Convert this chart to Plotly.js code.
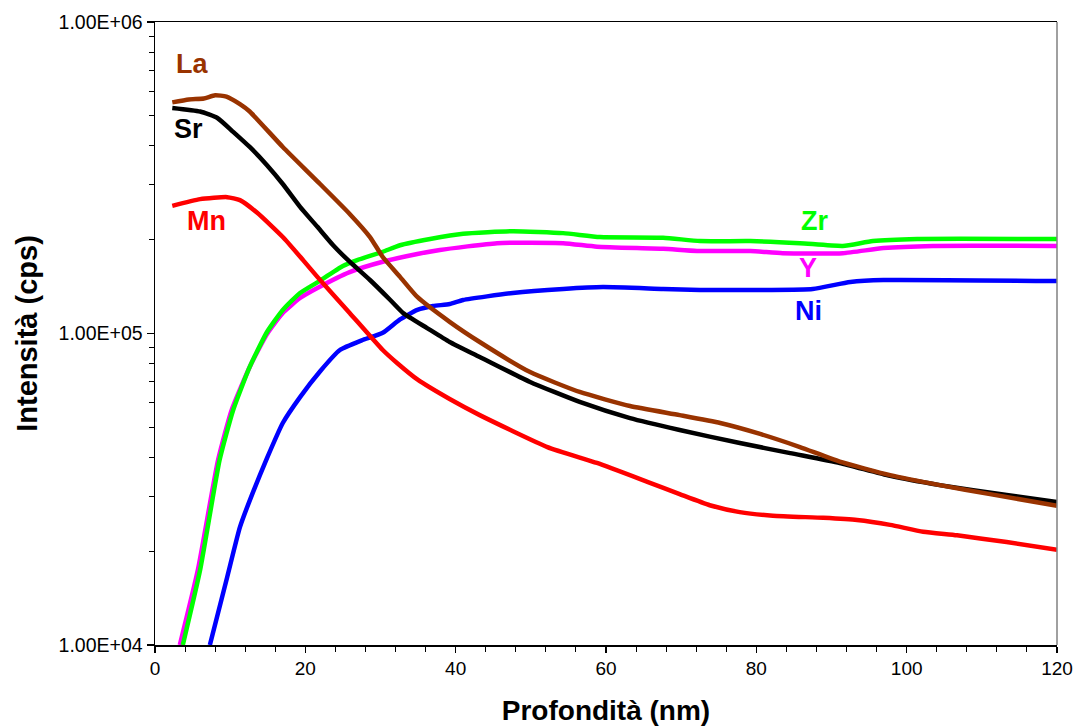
<!DOCTYPE html>
<html>
<head>
<meta charset="utf-8">
<script src="https://cdn.plot.ly/plotly-3.0.1.min.js"></script>
<style>
  html, body { margin: 0; padding: 0; background: #fff; }
  #chart { width: 1076px; height: 726px; }
</style>
</head>
<body>
<div id="chart"></div>
<script>
// Depth profile (nm) and intensities (cps) per element
const laDepth = [2.3, 4.5, 6.5, 8.0, 9.5, 11.3, 12.6, 17.0, 21.6, 25.9, 28.6, 30.3, 32.6, 34.9, 39.2, 43.2, 49.9, 56.5, 63.2, 69.8, 75.2, 80.5, 85.8, 91.1, 97.8, 104.4, 111.1, 120];
const laCps   = [5.52e5, 5.64e5, 5.68e5, 5.82e5, 5.76e5, 5.45e5, 5.16e5, 3.97e5, 3.08e5, 2.42e5, 2.04e5, 1.76e5, 1.52e5, 1.31e5, 1.09e5, 9.39e4, 7.52e4, 6.49e4, 5.85e4, 5.47e4, 5.16e4, 4.76e4, 4.32e4, 3.88e4, 3.51e4, 3.26e4, 3.05e4, 2.80e4];

const srDepth = [2.3, 6.0, 8.3, 10.4, 12.6, 14.9, 17.0, 19.3, 21.6, 23.7, 25.9, 28.6, 31.3, 33.0, 36.2, 39.2, 43.2, 49.9, 56.5, 63.2, 69.8, 77.8, 84.5, 91.1, 97.8, 104.4, 113.3, 120];
const srCps   = [5.30e5, 5.16e5, 4.92e5, 4.44e5, 3.97e5, 3.47e5, 3.02e5, 2.55e5, 2.20e5, 1.92e5, 1.70e5, 1.485e5, 1.281e5, 1.164e5, 1.041e5, 9.39e4, 8.41e4, 6.99e4, 6.03e4, 5.35e4, 4.90e4, 4.45e4, 4.13e4, 3.84e4, 3.49e4, 3.26e4, 3.03e4, 2.88e4];

const mnDepth = [2.3, 6.0, 9.6, 11.3, 13.6, 17.0, 19.7, 21.6, 25.9, 30.3, 32.2, 34.9, 39.2, 43.2, 52.2, 58.8, 65.5, 69.8, 73.8, 77.8, 82.2, 88.9, 93.4, 97.8, 102.2, 106.7, 113.3, 120];
const mnCps   = [2.57e5, 2.70e5, 2.74e5, 2.68e5, 2.44e5, 2.04e5, 1.72e5, 1.52e5, 1.164e5, 8.85e4, 8.04e4, 7.12e4, 6.16e4, 5.47e4, 4.32e4, 3.84e4, 3.34e4, 3.05e4, 2.81e4, 2.67e4, 2.60e4, 2.56e4, 2.52e4, 2.43e4, 2.31e4, 2.25e4, 2.14e4, 2.02e4];

const zrDepth = [3.7, 6.0, 8.6, 10.4, 12.6, 14.9, 17.0, 19.3, 21.6, 25.0, 26.9, 30.3, 32.6, 36.6, 41.0, 47.6, 54.3, 59.2, 67.6, 72.5, 79.2, 85.8, 91.5, 95.5, 101.4, 120];
const zrCps   = [1.0e4, 1.74e4, 3.93e4, 5.68e4, 7.81e4, 1.011e5, 1.19e5, 1.349e5, 1.46e5, 1.647e5, 1.72e5, 1.83e5, 1.92e5, 2.01e5, 2.09e5, 2.13e5, 2.10e5, 2.04e5, 2.03e5, 1.98e5, 1.98e5, 1.95e5, 1.91e5, 1.98e5, 2.01e5, 2.01e5];

const yDepth = [3.3, 5.7, 8.4, 10.2, 12.6, 14.9, 17.0, 19.3, 21.6, 25.9, 30.3, 34.9, 37.9, 45.5, 54.3, 58.8, 67.6, 72.1, 79.2, 83.5, 91.5, 96.9, 103.5, 120];
const yCps   = [1.0e4, 1.74e4, 3.93e4, 5.68e4, 7.81e4, 9.96e4, 1.164e5, 1.30e5, 1.40e5, 1.575e5, 1.70e5, 1.80e5, 1.854e5, 1.95e5, 1.95e5, 1.90e5, 1.87e5, 1.84e5, 1.84e5, 1.81e5, 1.81e5, 1.88e5, 1.91e5, 1.91e5];

const niDepth = [7.3, 9.6, 11.3, 13.0, 14.9, 17.0, 19.3, 22.0, 24.6, 27.5, 30.3, 32.6, 34.9, 37.0, 39.2, 41.0, 47.6, 54.3, 59.6, 67.6, 72.5, 81.4, 87.5, 92.5, 96.9, 120];
const niCps   = [1.0e4, 1.65e4, 2.39e4, 3.08e4, 3.98e4, 5.16e4, 6.25e4, 7.58e4, 8.85e4, 9.5e4, 1.005e5, 1.11e5, 1.19e5, 1.225e5, 1.243e5, 1.281e5, 1.349e5, 1.39e5, 1.41e5, 1.39e5, 1.38e5, 1.38e5, 1.39e5, 1.463e5, 1.485e5, 1.474e5];

// Axis tick labels
const yTickVals = [1e4, 1e5, 1e6];
const yTickText = ["1.00E+04", "1.00E+05", "1.00E+06"];

const FONT = '"Liberation Sans", Arial, sans-serif';

function line(x, y, name, color) {
  return {
    x: x, y: y, name: name, type: 'scatter', mode: 'lines',
    line: { color: color, width: 4.5, shape: 'spline', smoothing: 0.5 },
    hoverinfo: 'x+y+name'
  };
}

const traces = [
  line(yDepth, yCps, 'Y', '#FF00FF'),
  line(zrDepth, zrCps, 'Zr', '#00FF00'),
  line(niDepth, niCps, 'Ni', '#0000FF'),
  line(mnDepth, mnCps, 'Mn', '#FF0000'),
  line(srDepth, srCps, 'Sr', '#000000'),
  line(laDepth, laCps, 'La', '#993300')
];

// minor ticks at 2..9 of each decade
const yMinor = [];
for (let e = 4; e < 6; e++) for (let m = 2; m <= 9; m++) yMinor.push(m * Math.pow(10, e));

// inline element labels: [text, depth, log10(cps), colour]
const labels = [
  ['La', 4.9, 5.859, '#993300'],
  ['Sr', 4.4, 5.650, '#000000'],
  ['Mn', 6.9, 5.355, '#FF0000'],
  ['Zr', 87.7, 5.355, '#00FF00'],
  ['Y', 86.9, 5.204, '#FF00FF'],
  ['Ni', 87.0, 5.066, '#0000FF']
];

const layout = {
  width: 1076, height: 726,
  margin: { l: 155, r: 19, t: 22, b: 81 },
  paper_bgcolor: '#fff', plot_bgcolor: '#fff',
  showlegend: false,
  font: { family: FONT, color: '#000' },
  xaxis: {
    range: [0, 120], tick0: 0, dtick: 20,
    showgrid: false, zeroline: false,
    showline: true, linecolor: '#000', linewidth: 1.5, mirror: true,
    ticks: 'outside', ticklen: 6, tickcolor: '#000', tickwidth: 1.2,
    minor: { dtick: 4, tick0: 0, ticks: 'outside', ticklen: 5, tickcolor: '#000', tickwidth: 1, showgrid: false },
    tickfont: { family: FONT, size: 19, color: '#000' },
    title: { text: 'Profondità (nm)', font: { family: FONT, size: 28, color: '#000', weight: 'bold' }, standoff: 22 }
  },
  yaxis: {
    type: 'log', range: [4, 6],
    tickmode: 'array', tickvals: yTickVals, ticktext: yTickText,
    showgrid: false, zeroline: false,
    showline: true, linecolor: '#000', linewidth: 1.5,
    ticks: 'outside', ticklen: 7, tickcolor: '#000', tickwidth: 1.2,
    minor: { tickmode: 'array', tickvals: yMinor, ticks: 'outside', ticklen: 5, tickcolor: '#000', tickwidth: 1, showgrid: false },
    tickfont: { family: FONT, size: 19.5, color: '#000' },
    title: { text: 'Intensità (cps)', font: { family: FONT, size: 29, color: '#000', weight: 'bold' }, standoff: 12 }
  },
  shapes: [
    { type: 'line', xref: 'paper', yref: 'paper', x0: 1, x1: 1, y0: 0, y1: 1, line: { color: '#808080', width: 1.5 } }
  ],
  annotations: labels.map(l => ({
    text: '<b>' + l[0] + '</b>', x: l[1], y: l[2], xref: 'x', yref: 'y',
    showarrow: false, xanchor: 'center', yanchor: 'middle', yshift: 2,
    font: { family: FONT, size: 27, color: l[3] }
  }))
};

Plotly.newPlot('chart', traces, layout, { displayModeBar: false, staticPlot: true });
</script>
</body>
</html>
